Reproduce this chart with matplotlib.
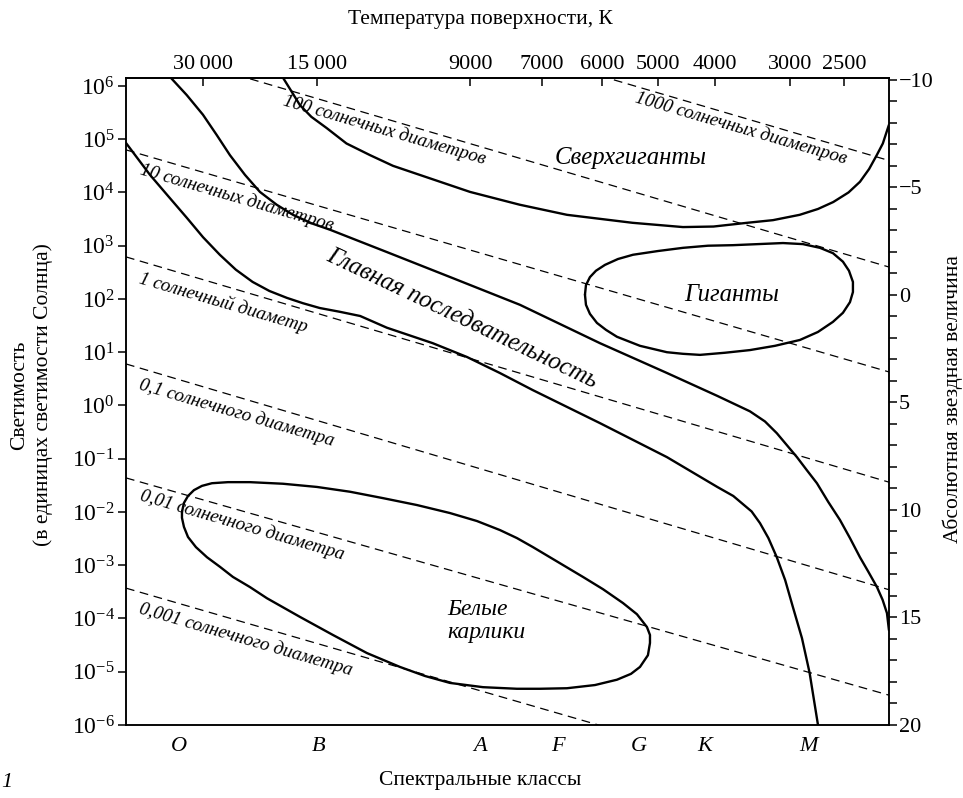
import numpy as np
import matplotlib
matplotlib.use("Agg")
import matplotlib.pyplot as plt
from matplotlib.ticker import NullLocator, FixedLocator

plt.rcParams['font.family'] = ['Liberation Serif', 'DejaVu Serif']
plt.rcParams['mathtext.fontset'] = 'custom'
plt.rcParams['mathtext.rm'] = 'Liberation Serif'
plt.rcParams['mathtext.it'] = 'Liberation Serif:italic'

# горизонталь: условная шкала 0..100 по спектральным классам
spec_classes = ['O', 'B', 'A', 'F', 'G', 'K', 'M']
spec_pos = [6.9, 25.2, 46.4, 56.6, 67.2, 75.9, 89.4]

temp_labels = ['30\u2009000', '15\u2009000', '9000', '7000', '6000',
               '5000', '4000', '3000', '2500']
temp_pos = [10.1, 25.0, 45.1, 54.5, 62.4, 69.7, 77.2, 87.0, 94.1]

lum_exp = list(range(-6, 7))
lg_top = 6.15
mag_major = [-10, -5, 0, 5, 10, 15, 20]
mag_top = -10.09

# главная последовательность, нижняя граница (lg L)
ms_low_x = [0, 3.15, 5.6, 8.0, 10.1, 12.3, 14.4, 16.6, 18.8, 21.1, 23.2,
            25.4, 28.0, 30.7, 34.2, 40.2, 44.7, 49.0, 53.3, 62.1, 70.9,
            77.5, 79.6, 82.0, 83.1, 84.2, 85.3, 86.4, 87.4, 88.6, 89.6, 90.7]
ms_low_lg = [4.93, 4.33, 3.92, 3.52, 3.16, 2.83, 2.55, 2.32, 2.15, 2.02,
             1.92, 1.83, 1.76, 1.68, 1.46, 1.17, 0.91, 0.61, 0.29, -0.33,
             -0.97, -1.53, -1.70, -1.99, -2.21, -2.49, -2.85, -3.28, -3.78,
             -4.37, -5.02, -6.0]

# главная последовательность, верхняя граница
ms_up_x = [5.90, 7.96, 10.09, 11.89, 13.63, 15.60, 17.56, 19.75, 21.89,
           24.34, 26.74, 34.21, 42.86, 51.64, 62.12, 70.90, 77.5, 81.78,
           83.75, 85.3, 86.59, 87.94, 89.21, 90.56, 92.04, 93.58, 94.89,
           96.20, 97.29, 98.43, 99.17, 99.74, 100]
ms_up_lg = [6.15, 5.83, 5.46, 5.08, 4.70, 4.33, 4.01, 3.77, 3.58, 3.42, 3.30,
            2.88, 2.39, 1.89, 1.17, 0.61, 0.18, -0.11, -0.30, -0.52, -0.74,
            -0.97, -1.21, -1.46, -1.81, -2.15, -2.49, -2.85, -3.12, -3.41,
            -3.65, -3.90, -4.22]

# сверхгиганты
sg_x = [20.6, 21.6, 22.8, 24.3, 26.3, 28.9, 32.0, 35.0, 38.5, 45.1, 51.6,
        57.8, 66.4, 73.0, 77.0, 81.4, 84.8, 88.3, 90.7, 92.7, 94.7, 96.2,
        97.4, 98.4, 99.2, 99.7, 100]
sg_lg = [6.15, 5.92, 5.64, 5.42, 5.21, 4.92, 4.70, 4.50, 4.33, 4.01, 3.77,
         3.58, 3.43, 3.35, 3.36, 3.43, 3.48, 3.58, 3.69, 3.82, 4.00, 4.20,
         4.44, 4.70, 4.92, 5.14, 5.27]

# гиганты (замкнутый контур)
gi_x = [60.16, 60.29, 60.81, 61.60, 62.78, 64.48, 66.45, 69.72, 73.00, 76.28,
        79.55, 82.83, 86.11, 88.73, 90.96, 92.66, 93.97, 94.76, 95.28, 95.28,
        94.89, 93.97, 92.66, 90.69, 88.33, 85.06, 81.78, 78.51, 75.23, 73.00,
        70.90, 67.37, 64.35, 62.91, 61.73, 60.81, 60.29, 60.16]
gi_lg = [2.08, 2.26, 2.41, 2.53, 2.64, 2.75, 2.83, 2.90, 2.96, 3.00, 3.01,
         3.03, 3.05, 3.03, 2.96, 2.86, 2.70, 2.53, 2.32, 2.13, 1.94, 1.74,
         1.57, 1.38, 1.23, 1.12, 1.04, 0.99, 0.95, 0.97, 1.00, 1.12, 1.29,
         1.42, 1.55, 1.72, 1.89, 2.08]

# белые карлики (замкнутый контур)
wd_x = [7.34, 7.60, 8.13, 8.91, 9.96, 11.27, 13.37, 16.25, 20.58, 25.03,
        29.36, 33.68, 38.14, 42.46, 46.00, 49.02, 51.24, 53.34, 56.62, 59.90,
        62.52, 65.14, 66.97, 68.28, 68.68, 68.68, 68.41, 67.37, 66.19, 64.35,
        61.47, 57.80, 54.26, 51.24, 46.79, 42.46, 39.19, 35.91, 31.59, 27.13,
        22.80, 18.48, 16.25, 14.02, 12.32, 10.62, 9.17, 8.13, 7.60, 7.34,
        7.34]
wd_lg = [-2.00, -1.83, -1.70, -1.59, -1.51, -1.46, -1.44, -1.44, -1.47,
         -1.53, -1.62, -1.74, -1.87, -2.02, -2.17, -2.34, -2.49, -2.66,
         -2.94, -3.22, -3.45, -3.71, -3.92, -4.16, -4.31, -4.46, -4.69,
         -4.91, -5.04, -5.15, -5.25, -5.31, -5.32, -5.32, -5.29, -5.21,
         -5.08, -4.91, -4.65, -4.31, -3.97, -3.62, -3.41, -3.22, -3.03,
         -2.85, -2.66, -2.47, -2.28, -2.11, -2.00]

# линии постоянного радиуса: lg L на левом и правом краях
radius_names = ['1000 солнечных диаметров', '100 солнечных диаметров',
                '10 солнечных диаметров', '1 солнечный диаметр',
                '0,1 солнечного диаметра', '0,01 солнечного диаметра',
                '0,001 солнечного диаметра']
radius_lg_left = [8.80, 6.82, 4.80, 2.79, 0.78, -1.36, -3.43]
radius_lg_right = [4.60, 2.60, 0.63, -1.44, -3.46, -5.44, -7.58]
radius_lbl_x = [80.6, 33.9, 14.5, 12.8, 14.5, 15.2, 15.7]
radius_lbl_lg = [5.21, 5.17, 3.90, 1.92, -0.14, -2.24, -4.40]


def lum(lg):
    return 10.0 ** np.asarray(lg)


fig = plt.figure(figsize=(9.63, 7.98), dpi=100)
ax = fig.add_axes([0.1308, 0.0915, 0.7923, 0.8108])
ax.set_xlim(0, 100)
ax.set_yscale('log')
ax.set_ylim(1e-6, 10 ** lg_top)

for a, b in zip(radius_lg_left, radius_lg_right):
    ax.plot([0, 100], lum([a, b]), color='black', lw=0.9,
            dashes=(7, 4.5))

solid = dict(color='black', lw=1.7, solid_joinstyle='round',
             solid_capstyle='round')
ax.plot(ms_low_x, lum(ms_low_lg), **solid)
ax.plot(ms_up_x, lum(ms_up_lg), **solid)
ax.plot(sg_x, lum(sg_lg), **solid)
ax.plot(gi_x, lum(gi_lg), **solid)
ax.plot(wd_x, lum(wd_lg), **solid)

for name, x, lg in zip(radius_names, radius_lbl_x, radius_lbl_lg):
    ax.text(x, 10 ** lg, name, style='italic', fontsize=13.7, rotation=-16.3,
            rotation_mode='anchor', ha='center', va='center')

region_font = dict(style='italic', fontsize=17.8)
ax.text(66.1, 10 ** 4.65, 'Сверхгиганты', ha='center', va='center',
        **region_font)
ax.text(79.4, 10 ** 2.08, 'Гиганты', ha='center', va='center', **region_font)
ax.text(44.0, 10 ** 1.64, 'Главная последвательность', ha='center',
        va='center', rotation=-25.5, rotation_mode='anchor', **region_font)
ax.text(42.1, 10 ** -3.84, 'Белые', ha='left', va='center', style='italic',
        fontsize=17)
ax.text(42.1, 10 ** -4.27, 'карлики', ha='left', va='center', style='italic',
        fontsize=17)

# оси
for s in ax.spines.values():
    s.set_linewidth(1.1)

ax.yaxis.set_major_locator(FixedLocator([10.0 ** k for k in lum_exp]))
ax.yaxis.set_minor_locator(NullLocator())
ax.set_yticklabels([r'$10^{%d}$' % k for k in lum_exp])
ax.tick_params(axis='y', which='major', direction='out', length=6,
               width=1.1, labelsize=17, pad=2)

ax.set_xticks(spec_pos)
ax.set_xticklabels(spec_classes, style='italic')
ax.tick_params(axis='x', length=0, labelsize=16, pad=9)

top = ax.secondary_xaxis('top')
top.set_xticks(temp_pos)
top.set_xticklabels(temp_labels)
top.tick_params(direction='in', length=6, width=1.1, labelsize=16, pad=3)
top.spines['top'].set_linewidth(1.1)

right = ax.twinx()
right.set_ylim(20, mag_top)
right.set_yticks(mag_major)
right.set_yticklabels([str(m).replace('-', '\u2212') for m in mag_major])
right.yaxis.set_minor_locator(FixedLocator(range(-10, 21)))
right.tick_params(axis='y', which='both', direction='out', length=6,
                  width=1.1, labelsize=16, pad=1)
for s in right.spines.values():
    s.set_linewidth(1.1)

fig.text(0.499, 0.975, 'Температура поверхности, К', ha='center',
         va='center', fontsize=15.5)
fig.text(0.499, 0.022, 'Спектральные классы', ha='center', va='center',
         fontsize=15.5)
fig.text(0.033, 0.505, 'Светимость\n(в единицах светимости Солнца)',
         ha='center', va='center', rotation=90, fontsize=15.5,
         linespacing=1.25)
fig.text(0.989, 0.50, 'Абсолютная звездная величина', ha='center',
         va='center', rotation=90, fontsize=15.5)
fig.text(0.001, 0.019, '1', ha='left', va='center', style='italic',
         fontsize=16)

fig.savefig('out.png', dpi=100)
